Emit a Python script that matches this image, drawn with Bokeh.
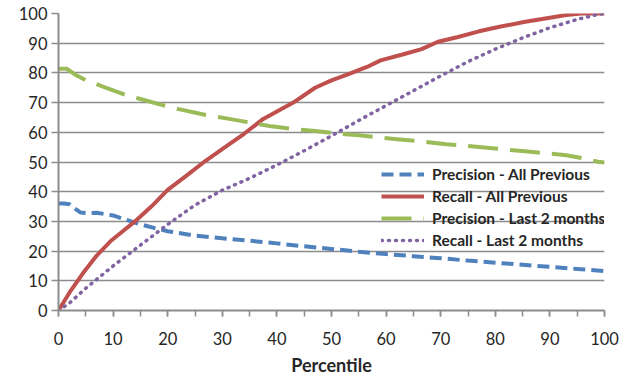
from bokeh.plotting import figure
from bokeh.models import Range1d, FixedTicker, Legend, LegendItem
from bokeh.embed import file_html
from bokeh.resources import INLINE

# ---- data ----
prec_all_x = [0, 1, 2, 3, 4, 5, 7, 10, 12.5, 15, 17.5, 20, 25, 30, 35, 40, 45, 50, 55, 60, 65, 70, 75, 80, 85, 90, 95, 100]
prec_all_y = [36, 36, 35.8, 34.3, 33.0, 32.8, 32.9, 32.0, 30.5, 29.0, 27.8, 26.7, 25.2, 24.3, 23.5, 22.6, 21.6, 20.7, 19.8, 19.0, 18.3, 17.6, 16.8, 16.1, 15.4, 14.7, 14.0, 13.3]

rec_all_x = [0, 2, 4.5, 7, 9.5, 12, 14, 17, 20, 23.5, 27, 30.5, 34, 37.5, 40, 43, 47, 50, 53, 56.5, 59, 63, 66.5, 69.5, 73, 77, 81, 85.5, 90, 93, 95.7, 100]
rec_all_y = [0, 6, 12.6, 18.5, 23.3, 27, 30, 35, 40.6, 45.5, 50.5, 55, 59.5, 64.5, 67, 70, 75, 77.5, 79.5, 82, 84.2, 86.2, 88, 90.5, 92, 94, 95.6, 97.2, 98.6, 99.5, 100, 100]

prec_2m_x = [0, 1.5, 3, 5, 8, 12, 15, 18.7, 22, 27, 31, 35, 39, 43, 47, 51, 55, 59, 63, 67, 71, 74.5, 78, 82, 86, 89.6, 93, 96, 98.8, 100]
prec_2m_y = [81.4, 81.4, 79.5, 77.5, 75.5, 72.8, 71.2, 69.3, 67.8, 65.8, 64.6, 63.3, 62.0, 61.1, 60.4, 59.6, 59.0, 58.2, 57.5, 56.8, 56.0, 55.5, 54.9, 54.2, 53.5, 52.9, 52.3, 51.3, 50.1, 49.8]

rec_2m_x = [0, 2, 5, 10, 15, 20, 25, 30, 35, 40, 45, 50, 55, 60, 65, 70, 75, 80, 85, 90, 95, 98.8, 100]
rec_2m_y = [0, 2.5, 7.5, 15, 22, 29, 35.5, 40.5, 44.5, 49, 53.8, 58.8, 64, 69, 74, 79, 83.8, 88, 91.8, 95.2, 98, 99.7, 100]

series_names = ["Precision - All Previous", "Recall - All Previous",
                "Precision - Last 2 months", "Recall - Last 2 months"]
x_ticks = list(range(0, 101, 10))
y_ticks = list(range(0, 101, 10))

FONT = "Lato"
GRID = "#8c8c8c"

p = figure(width=634, height=378, output_backend="svg", toolbar_location=None,
           x_range=Range1d(0, 100), y_range=Range1d(0, 100),
           min_border_left=58, min_border_right=30, min_border_top=13, min_border_bottom=67)
p.outline_line_color = None
p.background_fill_color = "white"
p.border_fill_color = "white"

r1 = p.line(prec_all_x, prec_all_y, line_color="#4F81BD", line_width=4, line_dash="12 6")
r2 = p.line(rec_all_x, rec_all_y, line_color="#C0504D", line_width=4)
r3 = p.line(prec_2m_x, prec_2m_y, line_color="#9BBB59", line_width=4, line_dash="30 12")
r4 = p.line(rec_2m_x, rec_2m_y, line_color="#8064A2", line_width=3.5, line_dash="1 6", line_cap="round")

# axes
p.xaxis.ticker = FixedTicker(ticks=x_ticks, minor_ticks=list(range(0, 101, 5)))
p.yaxis.ticker = FixedTicker(ticks=y_ticks)
for ax in (p.xaxis[0], p.yaxis[0]):
    ax.axis_line_color = GRID
    ax.axis_line_width = 2
    ax.major_tick_line_color = GRID
    ax.major_tick_line_width = 1.5
    ax.minor_tick_line_color = GRID
    ax.minor_tick_line_width = 1.5
    ax.major_tick_in = 0
    ax.minor_tick_in = 0
    ax.major_label_text_font = FONT
    ax.major_label_text_font_size = "16.5px"
    ax.major_label_text_color = "#262626"
p.xaxis.major_tick_out = 6
p.xaxis.minor_tick_out = 6
p.xaxis.major_label_standoff = 15
p.yaxis.major_tick_out = 7
p.yaxis.minor_tick_out = 0
p.yaxis.major_label_standoff = 4
p.xaxis.axis_label = "Percentile"
p.xaxis.axis_label_text_font = FONT
p.xaxis.axis_label_text_font_style = "bold"
p.xaxis.axis_label_text_font_size = "18px"
p.xaxis.axis_label_text_color = "#262626"
p.xaxis.axis_label_standoff = 6

p.xgrid.grid_line_color = None
p.ygrid.ticker = FixedTicker(ticks=y_ticks)
p.ygrid.grid_line_color = GRID
p.ygrid.grid_line_width = 1.5

legend = Legend(items=[LegendItem(label=series_names[0], renderers=[r1]),
                       LegendItem(label=series_names[1], renderers=[r2]),
                       LegendItem(label=series_names[2], renderers=[r3]),
                       LegendItem(label=series_names[3], renderers=[r4])],
                location=(323, 59))
legend.background_fill_alpha = 0
legend.border_line_color = None
legend.padding = 0
legend.margin = 0
legend.spacing = 0
legend.label_height = 22
legend.glyph_height = 22
legend.glyph_width = 43
legend.label_standoff = 8
legend.label_text_font = FONT
legend.label_text_font_style = "bold"
legend.label_text_font_size = "15.5px"
legend.label_text_color = "#262626"
p.add_layout(legend)

open("out.html", "w").write(file_html(p, INLINE))
